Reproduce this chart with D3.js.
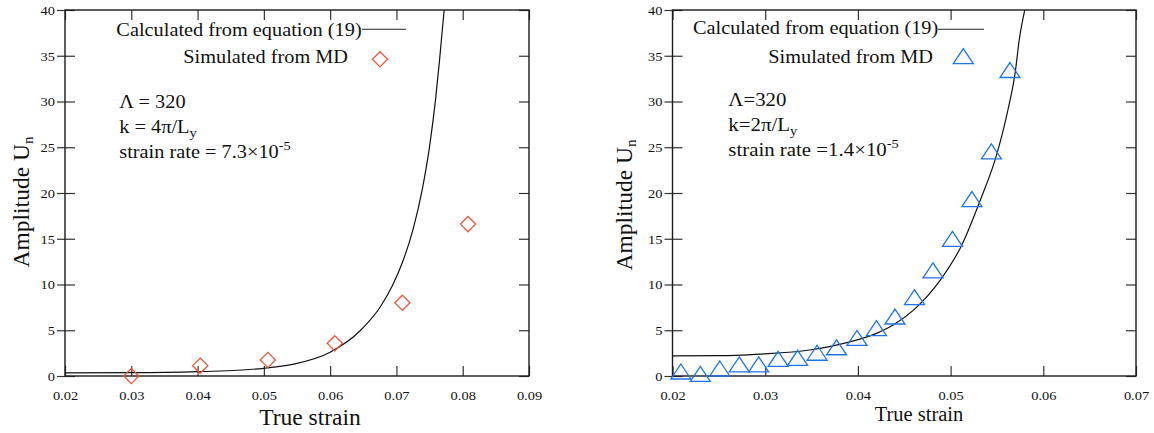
<!DOCTYPE html>
<html><head><meta charset="utf-8">
<script src="https://cdn.jsdelivr.net/npm/d3@7"></script>
<style>
body{margin:0;background:#fff}
text{font-family:"Liberation Serif","Times New Roman",serif;fill:#111}
</style>
</head><body>
<svg id="c" width="1154" height="433"></svg>
<script>
// ---------- data ----------
const yTicks = [0,5,10,15,20,25,30,35,40];
const xTicksLeft = [0.02,0.03,0.04,0.05,0.06,0.07,0.08,0.09];
const xTicksRight = [0.02,0.03,0.04,0.05,0.06,0.07];

// left panel: MD points (diamonds)
const leftStrain = [0.0300,0.0404,0.0506,0.0607,0.0709,0.0808];
const leftAmp    = [0.0,   1.13,  1.75,  3.57,  8.0,   16.6];
// left panel: equation (19) curve
const leftCurveStrain = [0.020,0.030,0.040,0.050,0.0545,0.060,0.0646,0.0676,0.0694,0.0710,0.0725,0.0739,0.0750,0.0759,0.0765,0.0772];
const leftCurveAmp    = [0.35, 0.36, 0.47, 0.84, 1.3,   2.6,  5.0,   7.6,   9.9,   12.6,  16.0,  20.4,  25.1,  30.2,  34.5,  40.0];

// right panel: MD points (triangles)
const rightStrain = [0.0209,0.0230,0.0251,0.0272,0.0293,0.0314,0.0335,0.0356,0.0377,0.0399,0.0420,0.0440,0.0461,0.0481,0.0502,0.0523,0.0544,0.0564];
const rightAmp    = [0.25,  0.0,   0.58,  1.02,  1.02,  1.64,  1.75,  2.3,   2.9,   3.93,  5.0,   6.26,  8.38,  11.3,  14.75, 19.1,  24.3,  33.2];
// right panel: equation (19) curve
const rightCurveStrain = [0.0200,0.0250,0.0294,0.0348,0.0388,0.0420,0.0438,0.0460,0.0489,0.0512,0.0532,0.0550,0.0561,0.0570,0.0574,0.0580];
const rightCurveAmp    = [2.20,  2.22,  2.40,  2.84,  3.64,  4.66,  5.57,  7.2,   10.5,  14.3,  19.2,  24.3,  28.7,  33.4,  36.7,  40.0];

const legendCalc = "Calculated from equation (19)";
const legendSim = "Simulated from MD";

// ---------- drawing ----------
const svg = d3.select("#c");
const SX = 1.07; // slight horizontal stretch of the original figure's text

function sText(parent, x, y, size, anchor){
  return parent.append("text")
    .attr("transform", `translate(${x},${y}) scale(${SX},1)`)
    .attr("font-size", size)
    .attr("text-anchor", anchor || "start");
}

function panel(cfg){
  const g = svg.append("g");
  const x = d3.scaleLinear().domain(cfg.xDomain).range(cfg.xRange);
  const y = d3.scaleLinear().domain([0,40]).range([376,10]);
  const [x0,x1] = cfg.xRange;

  const cid = "clip" + cfg.id;
  svg.append("clipPath").attr("id", cid).append("rect")
    .attr("x", x0).attr("y", 10).attr("width", x1-x0).attr("height", 366);

  const tickCol = "#333";
  const bottom = g.append("g").attr("transform","translate(0,376)")
    .call(d3.axisBottom(x).tickValues(cfg.xTicks).tickSizeInner(-10).tickSizeOuter(0).tickPadding(15)
      .tickFormat(d3.format(".2f")));
  const top = g.append("g").attr("transform","translate(0,10)")
    .call(d3.axisTop(x).tickValues(cfg.xTicks).tickSizeInner(-10).tickSizeOuter(0).tickFormat(""));
  const left = g.append("g").attr("transform",`translate(${x0},0)`)
    .call(d3.axisLeft(y).tickValues(yTicks).tickSizeInner(8).tickSizeOuter(0).tickPadding(10));
  const right = g.append("g").attr("transform",`translate(${x1},0)`)
    .call(d3.axisRight(y).tickValues(yTicks).tickSizeInner(-10).tickSizeOuter(0).tickFormat(""));
  [bottom, top, left, right].forEach(a => {
    a.select(".domain").remove();
    a.selectAll(".tick line").attr("stroke", tickCol).attr("stroke-width", 1.2);
  });
  left.selectAll(".tick line").attr("x1", 10);
  bottom.selectAll(".tick text")
    .attr("font-size", 13.5).attr("fill","#111")
    .attr("dy", null).attr("y", 24)
    .attr("transform", `scale(${SX},1)`);
  left.selectAll(".tick text")
    .attr("font-size", 13.5).attr("fill","#111")
    .attr("x", 0).attr("dy", null).attr("y", 0).attr("dominant-baseline","central")
    .attr("transform", `translate(-10,0) scale(${SX},1)`);

  g.append("rect").attr("x", x0).attr("y", 10).attr("width", x1-x0).attr("height", 366)
    .attr("fill","none").attr("stroke","#1a1a1a").attr("stroke-width",1.4);

  const line = d3.line().x(d => x(d[0])).y(d => y(d[1])).curve(d3.curveMonotoneX);
  const cdata = cfg.curveX.map((v,i) => [v, cfg.curveY[i]]);
  g.append("path").datum(cdata).attr("clip-path",`url(#${cid})`)
    .attr("d", line).attr("fill","none").attr("stroke","#111").attr("stroke-width",1.2);

  const pts = cfg.ptX.map((v,i) => [v, cfg.ptY[i]]);
  g.selectAll("path.mk").data(pts).join("path").attr("class","mk")
    .attr("transform", d => `translate(${x(d[0])},${y(d[1])})`)
    .attr("d", cfg.marker).attr("fill","none").attr("stroke", cfg.color).attr("stroke-width",1.3);

  // legend
  sText(g, cfg.leg.calcEnd, cfg.leg.calcY, 19, "end").text(legendCalc);
  g.append("line").attr("x1", cfg.leg.lineX[0]).attr("x2", cfg.leg.lineX[1])
    .attr("y1", 29.3).attr("y2", 29.3).attr("stroke","#222").attr("stroke-width",1.1);
  sText(g, cfg.leg.simEnd, cfg.leg.simY, 19, "end").text(legendSim);
  g.append("path").attr("transform",`translate(${cfg.leg.mk[0]},${cfg.leg.mk[1]})`)
    .attr("d", cfg.marker).attr("fill","none").attr("stroke", cfg.color).attr("stroke-width",1.3);

  // annotations
  const a = cfg.ann;
  sText(g, a.x, a.y[0], a.size).text(a.l1);
  const t2 = sText(g, a.x, a.y[1], a.size);
  t2.append("tspan").text(a.l2);
  t2.append("tspan").attr("font-size", 13.5).attr("dy", 4).text("y");
  const t3 = sText(g, a.x, a.y[2], a.size);
  t3.append("tspan").text(a.l3);
  t3.append("tspan").attr("font-size", 13.5).attr("dy", -8).text("-5");

  // axis titles
  g.append("text").attr("x", cfg.xt.x).attr("y", cfg.xt.y).attr("text-anchor","middle")
    .attr("font-size", cfg.xt.size).text("True strain");
  const yt = g.append("text").attr("transform", `translate(${cfg.yt.x},${cfg.yt.y}) rotate(-90)`)
    .attr("text-anchor","middle").attr("font-size", 23.5);
  yt.append("tspan").text("Amplitude U");
  yt.append("tspan").attr("font-size", 15).attr("dy", 4).text("n");
}

const diamond = "M0,-7.6L7.6,0L0,7.6L-7.6,0Z";
const triangle = "M0,-9.7L10,5.3L-10,5.3Z";

panel({
  id: "L", xDomain: [0.02,0.09], xRange: [65,529], xTicks: xTicksLeft,
  curveX: leftCurveStrain, curveY: leftCurveAmp, ptX: leftStrain, ptY: leftAmp,
  marker: diamond, color: "#f2563a",
  leg: {calcEnd: 361.7, calcY: 36, lineX: [362,406], simEnd: 348, simY: 62.5, mk: [380,59.3]},
  ann: {x: 119.3, y: [108.3,132.7,158.3], size: 19,
        l1: "Λ = 320", l2: "k = 4π/L", l3: "strain rate = 7.3×10"},
  xt: {x: 310, y: 425, size: 23.5}, yt: {x: 28.5, y: 202}
});

panel({
  id: "R", xDomain: [0.02,0.07], xRange: [672.5,1136], xTicks: xTicksRight,
  curveX: rightCurveStrain, curveY: rightCurveAmp, ptX: rightStrain, ptY: rightAmp,
  marker: triangle, color: "#1f74ec",
  leg: {calcEnd: 938.3, calcY: 34.3, lineX: [938,984], simEnd: 933, simY: 63.3, mk: [963.3,58.3]},
  ann: {x: 728.3, y: [106,131,156], size: 19.5,
        l1: "Λ=320", l2: "k=2π/L", l3: "strain rate =1.4×10"},
  xt: {x: 919, y: 421, size: 20.5}, yt: {x: 632, y: 205}
});
</script>
</body></html>
